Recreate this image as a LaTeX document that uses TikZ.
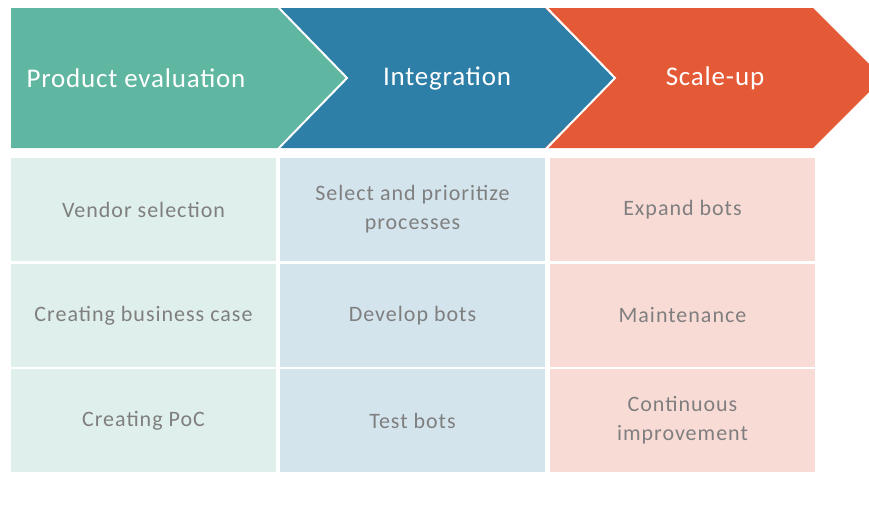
\documentclass[tikz,border=0pt]{standalone}
\usepackage{fontspec}
\setmainfont{Carlito}
\newfontfamily\headfont[LetterSpace=3]{Carlito}
\newfontfamily\cellfont[LetterSpace=4.5]{Carlito}
\definecolor{cgreen}{HTML}{5FB6A1}
\definecolor{cblue}{HTML}{2E7FA8}
\definecolor{corange}{HTML}{E45A36}
\definecolor{lgreen}{HTML}{DFEFEB}
\definecolor{lblue}{HTML}{D3E4EC}
\definecolor{lpink}{HTML}{F9DBD6}
\definecolor{tgrey}{HTML}{7F7F7F}
\tikzset{
  head/.style={text=white, font=\headfont\fontsize{27}{30}\selectfont},
  cell/.style={minimum width=265pt, minimum height=103pt, inner sep=0pt, text=tgrey,
     font=\cellfont\fontsize{22}{29}\selectfont, align=center},
  sep/.style={draw=white, line width=2pt}
}
\begin{document}
\begin{tikzpicture}[x=1pt,y=-1pt]
\useasboundingbox (0,0) rectangle (869,506);
\clip (0,0) rectangle (869,506);
% chevrons
\fill[cgreen] (11,8) -- (277,8) -- (347,78) -- (277,148) -- (11,148) -- cycle;
\fill[cblue] (277,8) -- (545,8) -- (615,78) -- (545,148) -- (277,148) -- (347,78) -- cycle;
\fill[corange] (545,8) -- (813,8) -- (883,78) -- (813,148) -- (545,148) -- (615,78) -- cycle;
\draw[sep] (277,6) -- (347,78) -- (277,150);
\draw[sep] (545,6) -- (615,78) -- (545,150);
\node[head] (h1) at (136,78) {Product evaluation};
\node[head] (h2) at (447,78) {Integration};
\node[head] (h3) at (715,78) {Scale-up};
% cells
\node[cell, fill=lgreen] (a1) at (143.5,209.5) {Vendor selection};
\node[cell, fill=lgreen] (a2) at (143.5,315.5) {Creating business case};
\node[cell, fill=lgreen] (a3) at (143.5,420.5) {Creating PoC};
\node[cell, fill=lblue] (b1) at (412.5,209.5) {Select and prioritize\\processes};
\node[cell, fill=lblue] (b2) at (412.5,315.5) {Develop bots};
\node[cell, fill=lblue] (b3) at (412.5,420.5) {Test bots};
\node[cell, fill=lpink] (c1) at (682.5,209.5) {Expand bots};
\node[cell, fill=lpink] (c2) at (682.5,315.5) {Maintenance};
\node[cell, fill=lpink] (c3) at (682.5,420.5) {Continuous\\improvement};
\end{tikzpicture}
\end{document}
